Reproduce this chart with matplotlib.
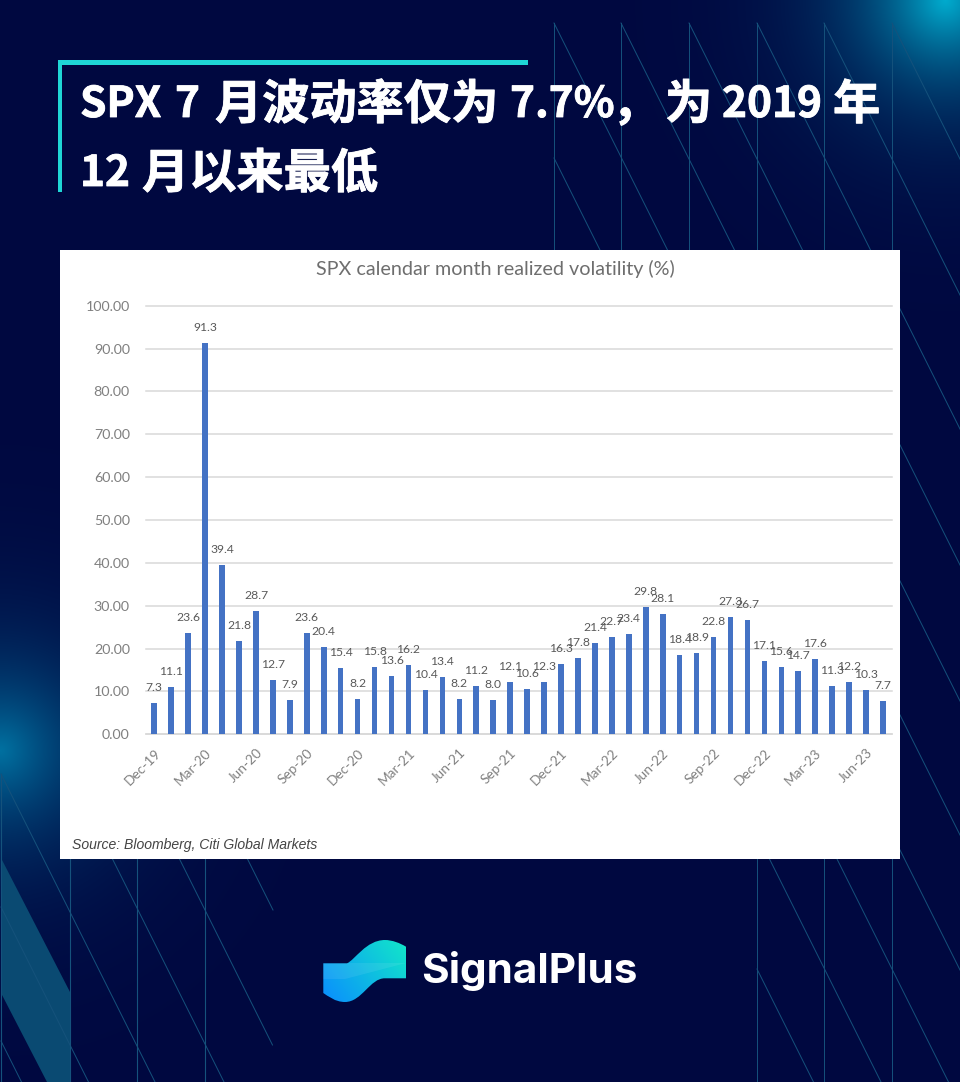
import matplotlib
matplotlib.use('Agg')
import matplotlib.pyplot as plt
import matplotlib.patheffects as pe
import numpy as np
from matplotlib.patches import PathPatch, Polygon, Rectangle
from matplotlib.path import Path

# Monthly values, Dec-19 to Jul-23
months = ['Dec-19', 'Jan-20', 'Feb-20', 'Mar-20', 'Apr-20', 'May-20', 'Jun-20', 'Jul-20',
          'Aug-20', 'Sep-20', 'Oct-20', 'Nov-20', 'Dec-20', 'Jan-21', 'Feb-21', 'Mar-21',
          'Apr-21', 'May-21', 'Jun-21', 'Jul-21', 'Aug-21', 'Sep-21', 'Oct-21', 'Nov-21',
          'Dec-21', 'Jan-22', 'Feb-22', 'Mar-22', 'Apr-22', 'May-22', 'Jun-22', 'Jul-22',
          'Aug-22', 'Sep-22', 'Oct-22', 'Nov-22', 'Dec-22', 'Jan-23', 'Feb-23', 'Mar-23',
          'Apr-23', 'May-23', 'Jun-23', 'Jul-23']
vol = [7.3, 11.1, 23.6, 91.3, 39.4, 21.8, 28.7, 12.7,
       7.9, 23.6, 20.4, 15.4, 8.2, 15.8, 13.6, 16.2,
       10.4, 13.4, 8.2, 11.2, 8.0, 12.1, 10.6, 12.3,
       16.3, 17.8, 21.4, 22.7, 23.4, 29.8, 28.1, 18.4,
       18.9, 22.8, 27.3, 26.7, 17.1, 15.6, 14.7, 17.6,
       11.3, 12.2, 10.3, 7.7]
y_ticks = [0, 10, 20, 30, 40, 50, 60, 70, 80, 90, 100]

W, H = 960, 1082
NAVY = np.array([1, 8, 64]) / 255
LINE = '#15527c'

fig = plt.figure(figsize=(W / 100, H / 100), dpi=100)

# Background layer works in image pixels
bg = fig.add_axes([0, 0, 1, 1])
bg.set_xlim(0, W)
bg.set_ylim(H, 0)
bg.axis('off')

# Two soft glows on the navy
xx, yy = np.meshgrid(np.arange(W), np.arange(H))
glow1 = np.exp(-(np.hypot(xx - 945, yy) / 80.0) ** 1.2)
glow2 = np.exp(-(np.hypot(xx, yy - 750) / 85.0) ** 1.2)
img = np.ones((H, W, 3)) * NAVY
img = img + glow1[..., None] * (np.array([0, 170, 205]) / 255 - NAVY)
img = img + glow2[..., None] * (np.array([0, 112, 160]) / 255 - NAVY)
bg.imshow(np.clip(img, 0, 1), extent=(0, W, H, 0), aspect='auto', zorder=0)

# Slanted band, bottom left
bg.add_patch(Polygon([(1, 858), (70, 992), (70, 1082), (47, 1082), (1, 993)],
                     closed=True, color='#0a4a72', lw=0, zorder=1))

# Line lattice, top right and bottom corners
for x in [554, 621, 689, 757, 824, 892]:
    bg.plot([x, x], [23, 250] if x < 757 else [23, 1082], color=LINE, lw=0.7, zorder=2)
for x in [1, 70, 137, 205]:
    bg.plot([x, x], [774, 1082], color=LINE, lw=0.8, zorder=2)


def slant(x0, y0, y1=1082):
    bg.plot([x0, x0 + (y1 - y0) * 0.5], [y0, y1], color=LINE, lw=0.7, zorder=2)


for x in [554, 621, 689, 757, 824, 892]:
    slant(x, 23)
for y in [158, 293, 428]:
    slant(554, y)
slant(757, 969)
for x, y in [(1, 774), (1, 907), (1, 1041), (70, 774)]:
    slant(x, y)
slant(137, 774, 1045)
slant(205, 774, 910)

# Title block
bg.add_patch(Rectangle((58, 60), 470, 5, color='#1fd6d6', lw=0, zorder=3))
bg.add_patch(Rectangle((58, 60), 4, 132, color='#1fd6d6', lw=0, zorder=3))
title_font = ['Noto Sans CJK SC', 'DejaVu Sans']
title_parts = [(80, 105, 'SPX', 30.5), (175, 105, '7', 30.5), (215, 105, '月波动率仅为', 34),
               (510, 105, '7.7%', 30.5), (612, 105, '，', 34), (665, 105, '为', 34),
               (722, 105, '2019', 30.5), (833, 105, '年', 34),
               (80, 174, '12', 30.5), (142, 174, '月以来最低', 34)]
for tx, ty, part, size in title_parts:
    bg.text(tx, ty, part, color='white', fontsize=size, fontweight='bold', family=title_font,
            va='center', ha='left', zorder=4,
            path_effects=[pe.withStroke(linewidth=0.6, foreground='white')])

# White panel
bg.add_patch(Rectangle((60, 250), 840, 609, color='white', lw=0, zorder=5))
bg.text(495, 269, 'SPX calendar month realized volatility (%)', color='#6e6e6e',
        fontsize=14.2, family='Lato', va='center', ha='center', zorder=6)
bg.text(72, 845, 'Source: Bloomberg, Citi Global Markets', color='#444444',
        fontsize=10.1, family='Liberation Sans', style='italic', va='center', zorder=6)

# Logo
verts = [(323.3, 963.3), (347, 963.3),
         (355, 960), (366, 940), (385, 940), (392, 940), (400, 943), (406, 946.7),
         (406, 978.3), (385, 978.3),
         (370, 978), (362, 1002), (345, 1002), (335, 1002), (328, 996), (323.3, 993),
         (323.3, 963.3)]
codes = [Path.MOVETO, Path.LINETO,
         Path.CURVE4, Path.CURVE4, Path.CURVE4, Path.CURVE4, Path.CURVE4, Path.CURVE4,
         Path.LINETO, Path.LINETO,
         Path.CURVE4, Path.CURVE4, Path.CURVE4, Path.CURVE4, Path.CURVE4, Path.CURVE4,
         Path.CLOSEPOLY]
logo = PathPatch(Path(verts, codes), facecolor='none', edgecolor='none', zorder=6)
bg.add_patch(logo)
gx, gy = np.meshgrid(np.linspace(0, 1, 90), np.linspace(0, 1, 70))
t = np.clip(0.65 * gx + 0.35 * (1 - gy), 0, 1)[..., None]
grad = (1 - t) * np.array([10, 140, 255]) / 255 + t * np.array([18, 232, 200]) / 255
logo_im = bg.imshow(grad, extent=(322, 407, 1003, 939), aspect='auto', zorder=6)
logo_im.set_clip_path(logo)
fold = Polygon([(323, 963), (406, 963), (345, 979), (323, 979)], closed=True, color='white',
               alpha=0.08, lw=0, zorder=7)
bg.add_patch(fold)
fold.set_clip_path(logo)
bg.set_xlim(0, W)
bg.set_ylim(H, 0)
bg.text(421, 971, 'SignalPlus', color='white', fontsize=30.4, fontweight='bold',
        family='Inter', va='center', ha='left', zorder=6)

# Chart axes sit over the panel
ax = fig.add_axes([145.8 / W, 1 - 734.3 / H, (891.5 - 145.8) / W, (734.3 - 305.7) / H])
ax.patch.set_alpha(0)
x_pos = np.arange(len(vol))
ax.bar(x_pos, vol, width=0.33, color='#4472c4', zorder=3)
ax.set_xlim(-0.5, len(vol) - 0.5)
ax.set_ylim(0, 100)
ax.set_yticks(y_ticks)
ax.set_yticklabels(['%.2f' % v for v in y_ticks], fontsize=10.3, color='#808080', family='Lato')
ax.set_xticks(x_pos[::3])
ax.set_xticklabels(months[::3], fontsize=9.8, color='#808080', family='Lato', rotation=45,
                   ha='right', rotation_mode='anchor')
ax.tick_params(axis='y', length=0, pad=11.5)
ax.tick_params(axis='x', length=0, pad=9)
ax.grid(axis='y', color='#d9d9d9', lw=1.1, zorder=0, clip_on=False)
ax.set_axisbelow(True)
for s in ['top', 'right', 'left']:
    ax.spines[s].set_visible(False)
ax.spines['bottom'].set_color('#d9d9d9')
ax.spines['bottom'].set_linewidth(1.1)

for xp, v in zip(x_pos, vol):
    ax.annotate('%.1f' % v, (xp, v), xytext=(0, 11.2), textcoords='offset points', ha='center',
                va='center', fontsize=8.7, color='#595959', family='Lato', zorder=4)

fig.savefig('out.png', dpi=100)
